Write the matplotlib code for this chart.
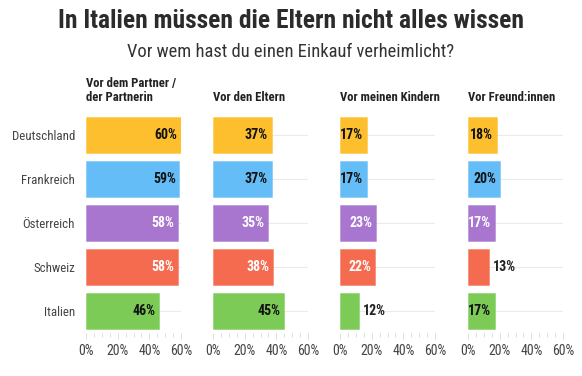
import numpy as np
import matplotlib.pyplot as plt
from matplotlib.ticker import MultipleLocator, FuncFormatter

plt.rcParams['font.family'] = ['Roboto Condensed', 'Roboto', 'DejaVu Sans']

countries = ['Deutschland', 'Frankreich', 'Österreich', 'Schweiz', 'Italien']
panels = ['Vor dem Partner /\nder Partnerin', 'Vor den Eltern', 'Vor meinen Kindern', 'Vor Freund:innen']
values = [
    [60, 59, 58, 58, 46],   # Partner
    [37, 37, 35, 38, 45],   # Eltern
    [17, 17, 23, 22, 12],   # Kinder
    [18, 20, 17, 13, 17],   # Freund:innen
]
colors = ['#FDBF2D', '#64BDF6', '#A876CE', '#F46B4F', '#7BCB56']
label_colors = ['#111111', '#111111', 'white', 'white', '#111111']

fig = plt.figure(figsize=(5.82, 3.76), dpi=100)
fig.text(0.5, 0.945, 'In Italien müssen die Eltern nicht alles wissen',
         ha='center', va='center', fontsize=18.4, fontweight='bold', color='#2b2b2b')
fig.text(0.5, 0.862, 'Vor wem hast du einen Einkauf verheimlicht?',
         ha='center', va='center', fontsize=13.3, color='#333333')

lefts = [86, 213, 340, 468]
y = np.arange(len(countries))
for i, (title, vals) in enumerate(zip(panels, values)):
    ax = fig.add_axes([lefts[i] / 582, 0.1144, 95 / 582, 0.585])
    ax.set_xlim(0, 60)
    ax.set_ylim(len(countries) - 0.5, -0.5)
    for yy in y:
        ax.axhline(yy, color='#ebebeb', lw=0.8, zorder=0)
    ax.barh(y, vals, height=0.8, color=colors, edgecolor=[c + '80' for c in colors],
            linewidth=0.6, zorder=2)
    for yy, v, lc in zip(y, vals, label_colors):
        if v >= 15:
            ax.text(v - 2.2, yy, f'{v}%', ha='right', va='center', fontsize=10,
                    fontweight='bold', color=lc, zorder=3)
        else:
            ax.text(v + 2.5, yy, f'{v}%', ha='left', va='center', fontsize=10,
                    fontweight='bold', color='#222222', zorder=3)
    for s in ax.spines.values():
        s.set_visible(False)
    ax.xaxis.set_major_locator(MultipleLocator(20))
    ax.xaxis.set_minor_locator(MultipleLocator(5))
    ax.xaxis.set_major_formatter(FuncFormatter(lambda x, p: f'{x:.0f}%'))
    ax.tick_params(axis='x', which='both', colors='#dddddd', labelcolor='#444444',
                   labelsize=10, length=4, width=0.7, pad=4)
    ax.tick_params(axis='x', which='minor', length=3)
    ax.tick_params(axis='y', length=0, labelsize=9.3, labelcolor='#444444', pad=8)
    ax.set_yticks(y)
    if i == 0:
        ax.set_yticklabels(countries)
    else:
        ax.set_yticklabels([])
    ax.text(0, 1.04, title, transform=ax.transAxes, ha='left', va='bottom',
            fontsize=9.1, fontweight='bold', color='#222222', linespacing=1.1)

fig.savefig('out.png', dpi=100)
